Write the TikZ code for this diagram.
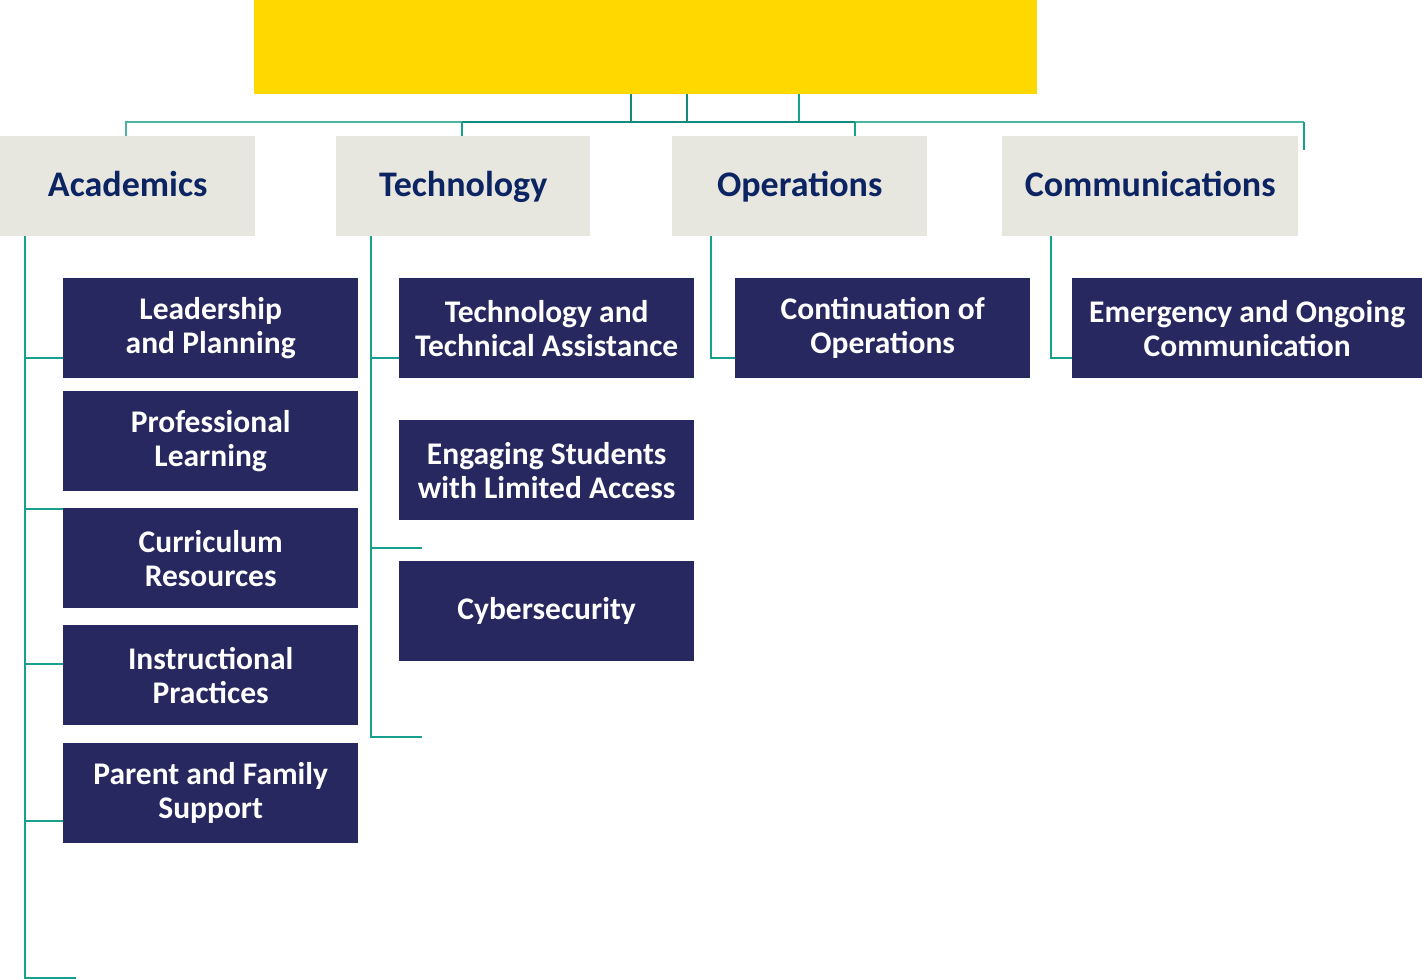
\documentclass[tikz,border=0pt]{standalone}
\usepackage{fontspec}
\setmainfont{Carlito}
\definecolor{gold}{HTML}{FFD800}
\definecolor{navy}{HTML}{26285F}
\definecolor{catfill}{HTML}{E8E7DF}
\definecolor{cattext}{HTML}{0C2462}
\definecolor{teal}{HTML}{18A08E}
\definecolor{tealdark}{HTML}{138A7A}
\definecolor{teallight}{HTML}{4DB3A3}
\begin{document}
\begin{tikzpicture}[x=1pt,y=-1pt,
  catbox/.style={anchor=north west,fill=catfill,inner sep=0pt,minimum height=100pt,
    text height=26pt,text depth=5pt,
    text=cattext,font=\fontsize{36}{40}\selectfont\bfseries},
  subbox/.style={anchor=north west,fill=navy,inner sep=0pt,minimum height=100pt,
    text=white,align=center,font=\fontsize{31.5}{34}\selectfont\bfseries},
  link/.style={draw=teal,line width=1.5pt},
  buslight/.style={draw=teallight,line width=1.5pt},
  busdark/.style={draw=tealdark,line width=1.5pt}]
\useasboundingbox (0,0) rectangle (1422,980);
% top box
\node[anchor=north west,fill=gold,inner sep=0pt,minimum width=783pt,minimum height=94pt] (top) at (254,0) {};
% categories
\node[catbox,minimum width=255pt] (acad) at (0,136) {Academics};
\node[catbox,minimum width=254pt] (tech) at (336,136) {Technology};
\node[catbox,minimum width=255pt] (oper) at (672,136) {Operations};
\node[catbox,minimum width=296pt] (comm) at (1002,136) {Communications};
% academics children
\node[subbox,minimum width=295pt] (lp) at (63,278) {Leadership\\and Planning};
\node[subbox,minimum width=295pt] (pl) at (63,391) {Professional\\Learning};
\node[subbox,minimum width=295pt] (cr) at (63,508) {Curriculum\\Resources};
\node[subbox,minimum width=295pt] (ip) at (63,625) {Instructional\\Practices};
\node[subbox,minimum width=295pt] (pf) at (63,743) {Parent and Family\\Support};
% technology children
\node[subbox,minimum width=295pt] (tta) at (399,278) {Technology and\\Technical Assistance};
\node[subbox,minimum width=295pt] (esl) at (399,420) {Engaging Students\\with Limited Access};
\node[subbox,minimum width=295pt] (cyb) at (399,561) {Cybersecurity};
% operations child
\node[subbox,minimum width=295pt] (coo) at (735,278) {Continuation of\\Operations};
% communications child
\node[subbox,minimum width=350pt] (eoc) at (1072,278) {Emergency and Ongoing\\Communication};
% bus coordinates
\coordinate (b1) at (126,122);
\coordinate (b2) at (462,122);
\coordinate (b3) at (855,122);
\coordinate (b4) at (1304,122);
\coordinate (b4e) at (1304,150);
% top drops
\draw[busdark] (top.south -| 631,0) -- (631,122);
\draw[busdark] (top.south -| 687,0) -- (687,122);
\draw[link] (top.south -| 799,0) -- (799,122);
% bus
\draw[buslight] (acad.north -| b1) -- (b1) -- (b2);
\draw[busdark] (b2) -- (b3);
\draw[buslight] (b3) -- (b4);
\draw[link] (b2) -- (tech.north -| b2);
\draw[link] (b3) -- (oper.north -| b3);
\draw[link] (b4) -- (b4e);
% academics branch
\coordinate (aend) at (76,978);
\draw[link] (acad.south -| 25,0) -- (25,978) -- (aend);
\draw[link] (25,358) -- (lp.west |- 0,358);
\draw[link] (25,509) -- (cr.west |- 0,509);
\draw[link] (25,664) -- (ip.west |- 0,664);
\draw[link] (25,821) -- (pf.west |- 0,821);
% technology branch
\coordinate (tend1) at (422,548);
\coordinate (tend2) at (422,737);
\draw[link] (tech.south -| 371,0) -- (371,737) -- (tend2);
\draw[link] (371,358) -- (tta.west |- 0,358);
\draw[link] (371,548) -- (tend1);
% operations branch
\draw[link] (oper.south -| 711,0) -- (711,358) -- (coo.west |- 0,358);
% communications branch
\draw[link] (comm.south -| 1051,0) -- (1051,358) -- (eoc.west |- 0,358);
\end{tikzpicture}
\end{document}
